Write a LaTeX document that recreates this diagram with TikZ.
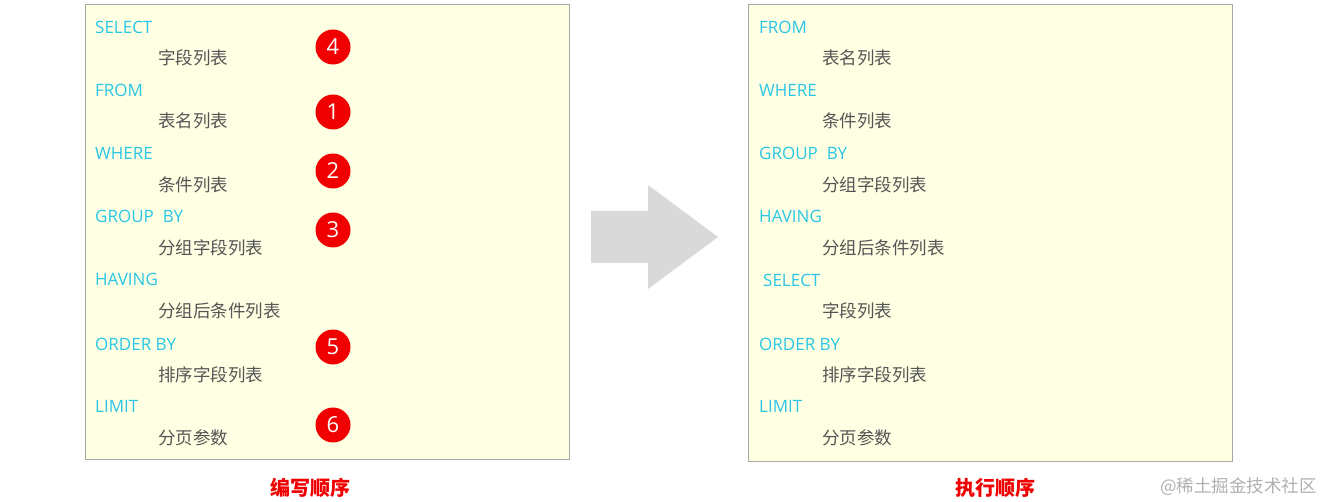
\documentclass[tikz,border=0pt]{standalone}
\usepackage{fontspec}
\setmainfont{Open Sans}
\newfontfamily\cjk{Noto Sans CJK SC}
\begin{document}
\begin{tikzpicture}[x=1pt,y=-1pt,
  box/.style={draw=boxgray,fill=boxfill,line width=0.9pt},
  kw/.style={anchor=west,inner sep=0pt,text=kwcyan,font=\fontsize{17}{19}\selectfont},
  sub/.style={anchor=west,inner sep=0pt,text=subgray,font=\cjk\fontsize{17.5}{20}\selectfont},
  num/.style={circle,fill=numred,text=white,minimum size=35pt,inner sep=0pt,font=\fontsize{22}{24}\selectfont},
  captext/.style={inner sep=0pt,text=numred,font=\cjk\bfseries\fontsize{20}{22}\selectfont},
  bigarrow/.style={fill=arrowgray,draw=none}
]
\definecolor{boxgray}{HTML}{A8A8A0}
\definecolor{boxfill}{HTML}{FFFFE3}
\definecolor{kwcyan}{HTML}{29C6E6}
\definecolor{subgray}{HTML}{555555}
\definecolor{numred}{HTML}{F00000}
\definecolor{arrowgray}{HTML}{D9D9D9}
\definecolor{wmgray}{HTML}{B0B0B0}
\useasboundingbox (0,0) rectangle (1324,502);
% boxes
\node[box,minimum width=484pt,minimum height=455pt,anchor=north west,inner sep=0pt] (lbox) at (85,4) {};
\node[box,minimum width=484pt,minimum height=457pt,anchor=north west,inner sep=0pt] (rbox) at (748,4) {};
% left texts
\node[kw] (l1) at (95,27) {SELECT};
\node[sub] (l2) at (158,58) {字段列表};
\node[kw] (l3) at (95,90) {FROM};
\node[sub] (l4) at (158,121) {表名列表};
\node[kw] (l5) at (95,153) {WHERE};
\node[sub] (l6) at (158,185) {条件列表};
\node[kw] (l7) at (95,216) {GROUP\ \ BY};
\node[sub] (l8) at (158,248) {分组字段列表};
\node[kw] (l9) at (95,279) {HAVING};
\node[sub] (l10) at (158,311) {分组后条件列表};
\node[kw] (l11) at (95,344) {ORDER BY};
\node[sub] (l12) at (158,375) {排序字段列表};
\node[kw] (l13) at (95,406) {LIMIT};
\node[sub] (l14) at (158,438) {分页参数};
% numbers
\node[num] (n4) at (333,47) {4};
\node[num] (n1) at (333,112) {1};
\node[num] (n2) at (333,171) {2};
\node[num] (n3) at (333,230) {3};
\node[num] (n5) at (333,347) {5};
\node[num] (n6) at (333,425) {6};
% right texts
\node[kw] (r1) at (759,27) {FROM};
\node[sub] (r2) at (822,58) {表名列表};
\node[kw] (r3) at (759,90) {WHERE};
\node[sub] (r4) at (822,121) {条件列表};
\node[kw] (r5) at (759,153) {GROUP\ \ BY};
\node[sub] (r6) at (822,185) {分组字段列表};
\node[kw] (r7) at (759,216) {HAVING};
\node[sub] (r8) at (822,248) {分组后条件列表};
\node[kw] (r9) at (763,280) {SELECT};
\node[sub] (r10) at (822,311) {字段列表};
\node[kw] (r11) at (759,344) {ORDER BY};
\node[sub] (r12) at (822,375) {排序字段列表};
\node[kw] (r13) at (759,406) {LIMIT};
\node[sub] (r14) at (822,438) {分页参数};
% arrow
\fill[bigarrow] (591,211) -- (648,211) -- (648,185) -- (718,237) -- (648,289) -- (648,263) -- (591,263) -- cycle;
% captions
\node[captext] (c1) at (310,488) {编写顺序};
\node[captext] (c2) at (995,488) {执行顺序};
\node[inner sep=0pt,anchor=east,text=wmgray,font=\cjk\fontsize{17.5}{19}\selectfont] (wm) at (1317,487) {@稀土掘金技术社区};
\end{tikzpicture}
\end{document}
